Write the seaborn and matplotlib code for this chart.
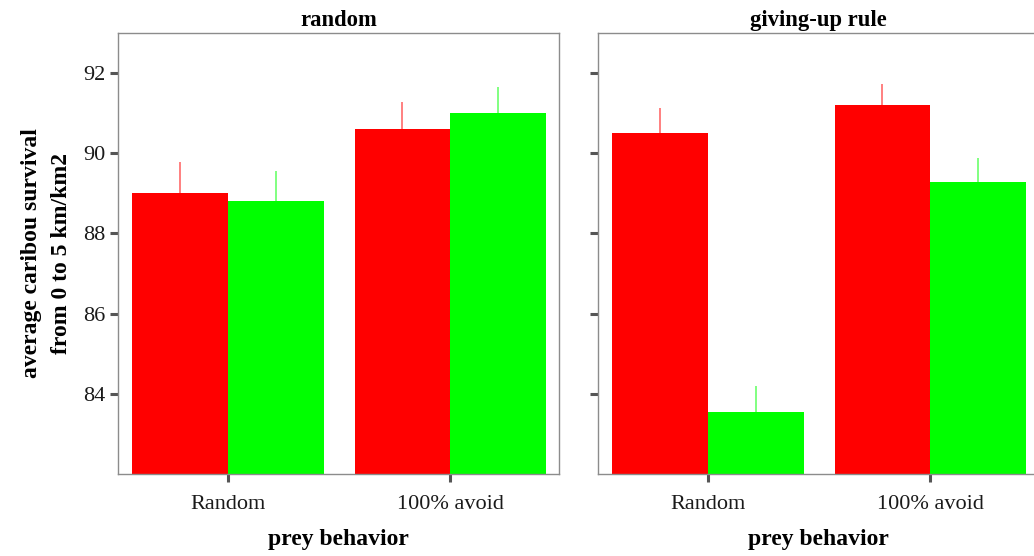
import matplotlib
matplotlib.use("Agg")
import matplotlib.pyplot as plt
import seaborn as sns
import pandas as pd
import numpy as np

# Data
panels = ["random", "giving-up rule"]
behaviors = ["Random", "100% avoid"]
groups = ["A", "B"]
# means per panel: [Random-red, Random-green, Avoid-red, Avoid-green]
means_random = [89.01, 88.81, 90.61, 91.00]
upper_random = [89.78, 89.56, 91.28, 91.65]
means_giveup = [90.51, 83.54, 91.20, 89.29]
upper_giveup = [91.12, 84.20, 91.72, 89.87]
bar_colors = ["#FF0000", "#00FF00"]
err_colors = ["#FF8080", "#80FF80"]

sns.set_theme(style="white")
plt.rcParams['font.family'] = ['Liberation Serif', 'DejaVu Serif']

fig = plt.figure(figsize=(10.34, 5.56), dpi=100)
W, H = 1034, 556
ax1 = fig.add_axes([118 / W, (H - 474) / H, 441 / W, 441 / H])
ax2 = fig.add_axes([598 / W, (H - 474) / H, 441 / W, 441 / H])

for ax, title, means, uppers in [(ax1, panels[0], means_random, upper_random),
                                 (ax2, panels[1], means_giveup, upper_giveup)]:
    df = pd.DataFrame({
        "behavior": [b for b in behaviors for _ in groups],
        "group": groups * len(behaviors),
        "value": means,
        "upper": uppers,
    })
    sns.barplot(data=df, x="behavior", y="value", hue="group", order=behaviors,
                hue_order=groups, palette=bar_colors, width=0.86, errorbar=None,
                saturation=1, ax=ax, legend=False, bottom=0, linewidth=0,
                edgecolor="none")
    # upper error lines at bar centres
    for i, (b, g) in enumerate(zip(df["behavior"], df["group"])):
        bi = behaviors.index(b)
        gi = groups.index(g)
        xc = bi + (gi - 0.5) * 0.43
        ax.vlines(xc, df["value"][i], df["upper"][i], color=err_colors[gi], lw=1.4, zorder=3)
    ax.set_ylim(82, 93)
    ax.set_xlim(-0.495, 1.49)
    ax.set_yticks([84, 86, 88, 90, 92])
    ax.set_title(title, fontsize=16.3, fontweight="bold", pad=5, color="black")
    ax.set_xlabel("prey behavior", fontsize=17, fontweight="bold", labelpad=11,
                  color="black")
    ax.set_ylabel("")
    for sp in ax.spines.values():
        sp.set_color("#8c8c8c")
        sp.set_linewidth(1.0)
        sp.set_visible(True)
    ax.tick_params(axis="both", which="both", length=6, width=2.2, color="#555555",
                   labelsize=16, labelcolor="#1a1a1a", pad=3, left=True, bottom=True)
    ax.tick_params(axis="x", pad=9)

ax2.tick_params(axis="y", labelleft=False)
ax1.set_ylabel("average caribou survival\nfrom 0 to 5 km/km2", fontsize=17,
               fontweight="bold", labelpad=8, linespacing=1.55, color="black")

fig.savefig("out.png", dpi=100)
